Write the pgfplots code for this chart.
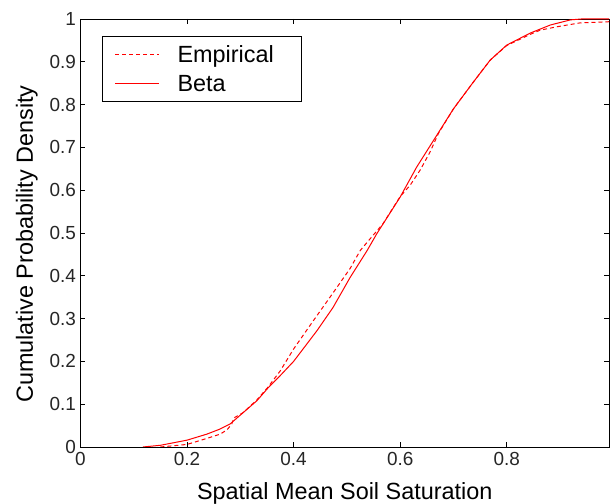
\documentclass[border=0pt]{standalone}
\usepackage{fontspec}
\setmainfont{Liberation Sans}
\usepackage{pgfplots}
\pgfplotsset{compat=1.18}

% beta fit to the spatial mean soil saturation (solid)
\pgfplotstableread{
x      y
0.117  0.000
0.150  0.004
0.200  0.016
0.237  0.030
0.260  0.041
0.281  0.054
0.305  0.080
0.331  0.108
0.352  0.138
0.375  0.167
0.400  0.200
0.444  0.272
0.474  0.326
0.506  0.396
0.538  0.459
0.556  0.498
0.600  0.584
0.631  0.654
0.663  0.717
0.700  0.790
0.737  0.852
0.769  0.904
0.800  0.939
0.844  0.967
0.882  0.986
0.920  0.998
0.940  1.000
1.000  1.000
}\betacdf

% empirical distribution (dashed)
\pgfplotstableread{
x      y
0.150  0.000
0.200  0.006
0.237  0.020
0.262  0.030
0.275  0.040
0.284  0.054
0.288  0.068
0.305  0.080
0.331  0.110
0.352  0.140
0.375  0.178
0.400  0.229
0.437  0.295
0.474  0.360
0.506  0.417
0.525  0.459
0.544  0.487
0.568  0.522
0.600  0.585
0.619  0.612
0.638  0.648
0.656  0.689
0.672  0.733
0.700  0.790
0.737  0.852
0.769  0.904
0.800  0.938
0.844  0.964
0.863  0.974
0.895  0.982
0.938  0.991
1.000  0.994
}\empcdf

\begin{document}
\begin{tikzpicture}
\begin{axis}[
    scale only axis,
    width=528.5bp, height=428bp,
    xmin=0, xmax=0.992,
    ymin=0, ymax=1,
    xtick={0,0.2,0.4,0.6,0.8},
    ytick={0,0.1,0.2,0.3,0.4,0.5,0.6,0.7,0.8,0.9,1},
    xticklabels={0,0.2,0.4,0.6,0.8},
    yticklabels={0,0.1,0.2,0.3,0.4,0.5,0.6,0.7,0.8,0.9,1},
    tick align=inside,
    major tick length=5bp,
    tick style={black, line width=0.8bp},
    axis line style={black, line width=0.8bp},
    ticklabel style={font=\fontsize{19}{22}\selectfont, color=black!85},
    xticklabel style={yshift=-2bp},
    yticklabel style={xshift=-1bp},
    xlabel={Spatial Mean Soil Saturation},
    ylabel={Cumulative Probability Density},
    label style={font=\fontsize{23.5}{27}\selectfont},
    xlabel style={at={(axis description cs:0.5,-0.1215)}, anchor=base, inner sep=0pt},
    ylabel style={at={(axis description cs:-0.0899,0.474)}, anchor=base, inner sep=0pt},
    legend style={at={(axis description cs:0.0407,0.960)}, anchor=north west,
        fill=white, line width=0.8bp, inner xsep=12bp, inner ysep=6.5bp,
        font=\fontsize{23.5}{27}\selectfont, row sep=6bp,
        nodes={inner sep=2bp, text height=17bp, text depth=2bp}},
    legend image code/.code={\draw[#1, draw=red, line width=1.2bp] (0bp,0bp) -- (44bp,0bp);},
    legend cell align=left,
]
\addplot[red, line width=1bp, dash pattern=on 4bp off 3bp] table[x=x, y=y] {\empcdf};
\addlegendentry{\hspace{16bp}Empirical\rule{14bp}{0bp}}
\addplot[red, line width=1bp] table[x=x, y=y] {\betacdf};
\addlegendentry{\hspace{16bp}Beta}
\coordinate (sw) at (rel axis cs:0,0);
\coordinate (ne) at (rel axis cs:1,1);
\end{axis}
\pgfresetboundingbox
\path ([shift={(-80.5bp,-57bp)}]sw) rectangle ([shift={(1bp,19bp)}]ne);
\end{tikzpicture}
\end{document}
